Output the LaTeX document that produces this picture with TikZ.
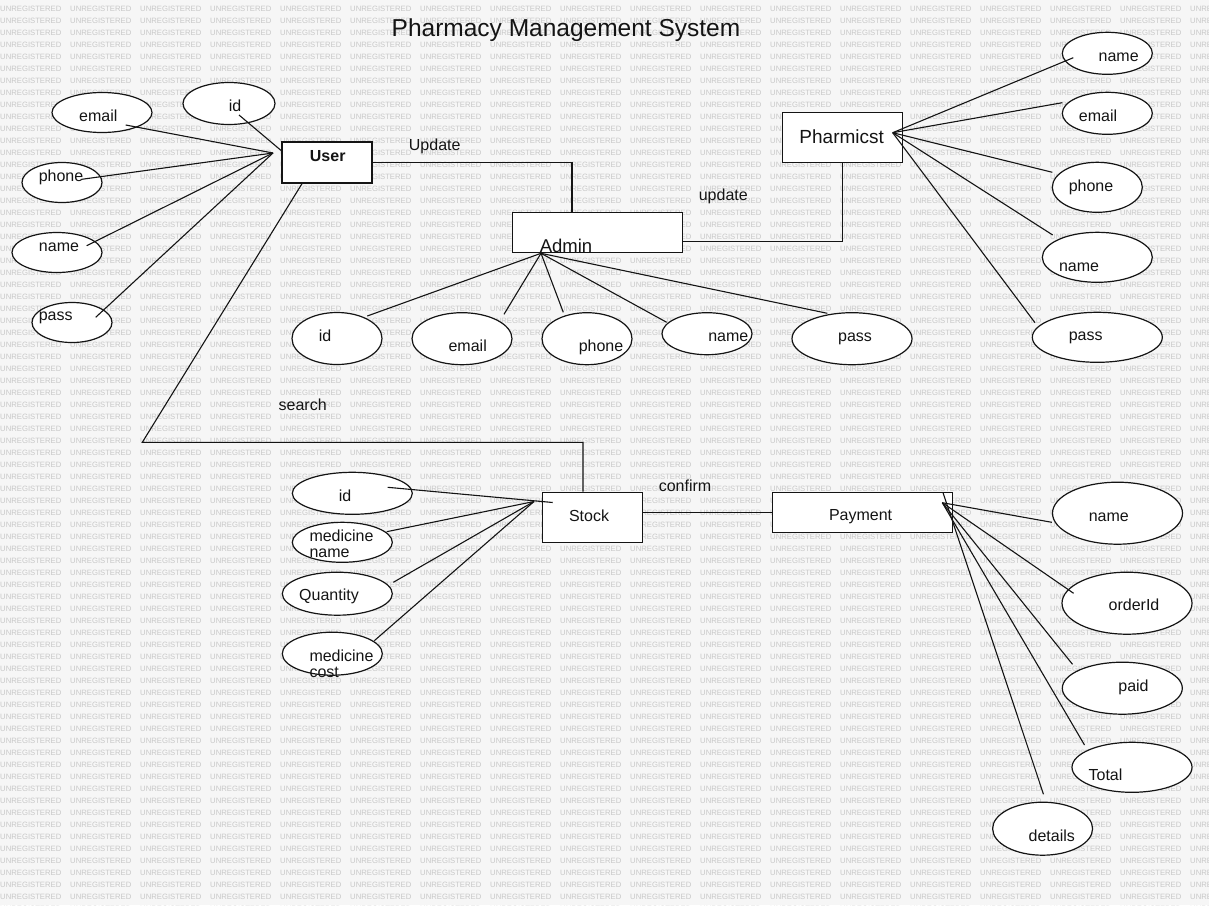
\documentclass[tikz,border=0pt]{standalone}
\usepackage{fontspec}
\setmainfont{Liberation Sans}
\usetikzlibrary{shapes.geometric}
\definecolor{bgc}{RGB}{246,246,246}
\definecolor{wmc}{RGB}{200,200,200}
\definecolor{ink}{RGB}{20,20,20}
\begin{document}
\begin{tikzpicture}[x=1pt,y=-1pt,
  attr/.style={draw=ink, ellipse, fill=white, line width=1.2pt, inner sep=0pt},
  ent/.style={draw=ink, rectangle, fill=white, line width=1.4pt, inner sep=0pt},
  lbl/.style={anchor=base, inner sep=0pt, text=ink, font=\fontsize{16}{18}\selectfont},
  lbll/.style={lbl, anchor=base west},
  conn/.style={draw=ink, line width=1.1pt},
  wm/.style={anchor=west, inner sep=0pt, text=wmc, font=\fontsize{7.7}{8}\selectfont}]
% background and watermark
\fill[bgc] (0,0) rectangle (1209,905);
\useasboundingbox (0,0) rectangle (1209,905);
\foreach \r in {0,...,75}{
  \foreach \c in {0,...,17}{
    \node[wm] at (\c*70, 8.5+\r*12) {UNREGISTERED};
  }
}
% title
\node[lbl, font=\fontsize{24.5}{28}\selectfont] (title) at (566,36.7) {Pharmacy Management System};

% entities
\node[ent, minimum width=90, minimum height=41] (user) at (327,162.5) {};
\node[ent, minimum width=170, minimum height=40] (admin) at (597.5,232.3) {};
\node[ent, minimum width=120, minimum height=50] (pharm) at (842.3,137.3) {};
\node[ent, minimum width=100, minimum height=50] (stock) at (592.3,517.3) {};
\node[ent, minimum width=180, minimum height=40] (payment) at (862.4,512.3) {};

% user attributes
\node[attr, minimum width=100, minimum height=40] (uemail) at (102,112.5) {};
\node[attr, minimum width=92, minimum height=42] (uid) at (229,103.5) {};
\node[attr, minimum width=80, minimum height=40] (uphone) at (62,182.5) {};
\node[attr, minimum width=90, minimum height=40] (uname) at (57,252.5) {};
\node[attr, minimum width=80, minimum height=40] (upass) at (72,322.5) {};

% admin attributes
\node[attr, minimum width=90, minimum height=52] (aid) at (337,338.5) {};
\node[attr, minimum width=100, minimum height=52] (aemail) at (462,338.7) {};
\node[attr, minimum width=90, minimum height=52] (aphone) at (587,338.7) {};
\node[attr, minimum width=90, minimum height=42] (aname) at (707,333.7) {};
\node[attr, minimum width=120, minimum height=52] (apass) at (852,338.7) {};

% pharmicst attributes
\node[attr, minimum width=90, minimum height=42] (pname) at (1107.3,53.3) {};
\node[attr, minimum width=90, minimum height=42] (pemail) at (1107.3,113.3) {};
\node[attr, minimum width=90, minimum height=50] (pphone) at (1097.3,187.3) {};
\node[attr, minimum width=110, minimum height=50] (pname2) at (1097.3,257.3) {};
\node[attr, minimum width=130, minimum height=50] (ppass) at (1097.3,337.3) {};

% stock attributes
\node[attr, minimum width=120, minimum height=42] (sid) at (352.3,493.3) {};
\node[attr, minimum width=100, minimum height=40] (smname) at (342.3,542.3) {};
\node[attr, minimum width=110, minimum height=43] (sqty) at (337.3,593.7) {};
\node[attr, minimum width=100, minimum height=43] (smcost) at (332.3,653.7) {};

% payment attributes
\node[attr, minimum width=130, minimum height=62] (yname) at (1117.5,513.2) {};
\node[attr, minimum width=130, minimum height=62] (yorder) at (1127,603.2) {};
\node[attr, minimum width=120, minimum height=52] (ypaid) at (1122.3,688.2) {};
\node[attr, minimum width=120, minimum height=50] (ytotal) at (1132,767.3) {};
\node[attr, minimum width=100, minimum height=53] (ydetails) at (1042.6,828.7) {};

% hubs and line ends
\coordinate (uhub) at (273,153);
\coordinate (uidend) at (281.7,151);
\coordinate (ahub) at (541,253.3);
\coordinate (phub) at (892.7,132.7);
\coordinate (shub) at (534,501.5);
\coordinate (sidend) at (552.7,502.5);
\coordinate (yhub) at (942.3,502.7);
\coordinate (ytop) at (943,492.7);
\coordinate (scorner) at (142.3,442.3);

\coordinate (uemailp) at (125.7,125);
\coordinate (uidp) at (239,115);
\coordinate (uphonep) at (81.7,179.3);
\coordinate (unamep) at (86.7,245.7);
\coordinate (upassp) at (95.7,317.3);

\coordinate (aidp) at (367.3,316);
\coordinate (aemailp) at (504,314.3);
\coordinate (aphonep) at (563.3,312.3);
\coordinate (anamep) at (666.7,322.3);
\coordinate (apassp) at (827.3,313.3);

\coordinate (pnamep) at (1073.3,57.7);
\coordinate (pemailp) at (1062.3,102.7);
\coordinate (pphonep) at (1052.3,172.3);
\coordinate (pname2p) at (1052.7,235);
\coordinate (ppassp) at (1035,322.7);

\coordinate (sidp) at (387.7,487.3);
\coordinate (smnamep) at (386.7,531.7);
\coordinate (sqtyp) at (393.3,582.3);
\coordinate (smcostp) at (374.3,640.7);

\coordinate (ynamep) at (1051.8,522.3);
\coordinate (yorderp) at (1073.6,593.3);
\coordinate (ypaidp) at (1072.5,664.3);
\coordinate (ytotalp) at (1084.5,745);
\coordinate (ydetailsp) at (1043.5,794.3);

% relationships
\draw[conn] (user.east) -| ([xshift=-25.5pt]admin.north);
\draw[conn] ([yshift=-9.5pt]admin.east) -| (pharm.south);
\draw[conn] ([xshift=-25pt]user.south) -- (scorner) -| ([xshift=-9.3pt]stock.north);
\draw[conn] (stock.east |- payment.west) -- (payment.west);

% attribute connectors
\draw[conn] (uemailp) -- (uhub);
\draw[conn] (uidp) -- (uidend);
\draw[conn] (uphonep) -- (uhub);
\draw[conn] (unamep) -- (uhub);
\draw[conn] (upassp) -- (uhub);

\draw[conn] (aidp) -- (ahub);
\draw[conn] (aemailp) -- (ahub);
\draw[conn] (aphonep) -- (ahub);
\draw[conn] (anamep) -- (ahub);
\draw[conn] (apassp) -- (ahub);

\draw[conn] (pnamep) -- (phub);
\draw[conn] (pemailp) -- (phub);
\draw[conn] (pphonep) -- (phub);
\draw[conn] (pname2p) -- (phub);
\draw[conn] (ppassp) -- (phub);

\draw[conn] (sidp) -- (sidend);
\draw[conn] (smnamep) -- (shub);
\draw[conn] (sqtyp) -- (shub);
\draw[conn] (smcostp) -- (shub);

\draw[conn] (ynamep) -- (yhub);
\draw[conn] (yorderp) -- (yhub);
\draw[conn] (ypaidp) -- (yhub);
\draw[conn] (ytotalp) -- (yhub);
\draw[conn] (ydetailsp) -- (ytop);

% entity texts
\node[lbl, font=\fontsize{16}{18}\bfseries] (usert) at (327.7,161) {User};
\node[lbl, font=\fontsize{18.5}{20}\selectfont] (admint) at (566,252.5) {Admin};
\node[lbl, font=\fontsize{19}{21}\selectfont] (pharmt) at (841.7,143.3) {Pharmicst};
\node[lbl] (stockt) at (589,521.7) {Stock};
\node[lbl] (paymentt) at (860.6,520.5) {Payment};

% relationship labels
\node[lbl] (updt) at (434.7,150.5) {Update};
\node[lbl] (upd2t) at (723.3,200.8) {update};
\node[lbl] (searcht) at (302.7,410.8) {search};
\node[lbl] (confirmt) at (685,491.5) {confirm};

% attribute texts
\node[lbl] at (98.3,121.7) {email};
\node[lbl] at (235,111.7) {id};
\node[lbl] at (61,181.7) {phone};
\node[lbl] at (59,251.7) {name};
\node[lbl] at (55.7,320.7) {pass};

\node[lbl] at (325,341.7) {id};
\node[lbl] at (467.7,351.7) {email};
\node[lbl] at (601,351.7) {phone};
\node[lbl] at (728.3,341.7) {name};
\node[lbl] at (855,341.2) {pass};

\node[lbl] at (1118.7,61) {name};
\node[lbl] at (1098,121.3) {email};
\node[lbl] at (1091,191) {phone};
\node[lbl] at (1079,271) {name};
\node[lbl] at (1085.7,340.7) {pass};

\node[lbl] at (345,501) {id};
\node[lbll] at (309.3,541) {medicine};
\node[lbll] at (309.3,557.7) {name};
\node[lbl] at (329,600.7) {Quantity};
\node[lbll] at (309.3,661) {medicine};
\node[lbll] at (309.3,677.3) {cost};

\node[lbl] at (1108.8,521) {name};
\node[lbl] at (1134,610.7) {orderId};
\node[lbl] at (1133.5,691) {paid};
\node[lbl] at (1105.5,780.7) {Total};
\node[lbl] at (1051.8,841.3) {details};
\end{tikzpicture}
\end{document}
